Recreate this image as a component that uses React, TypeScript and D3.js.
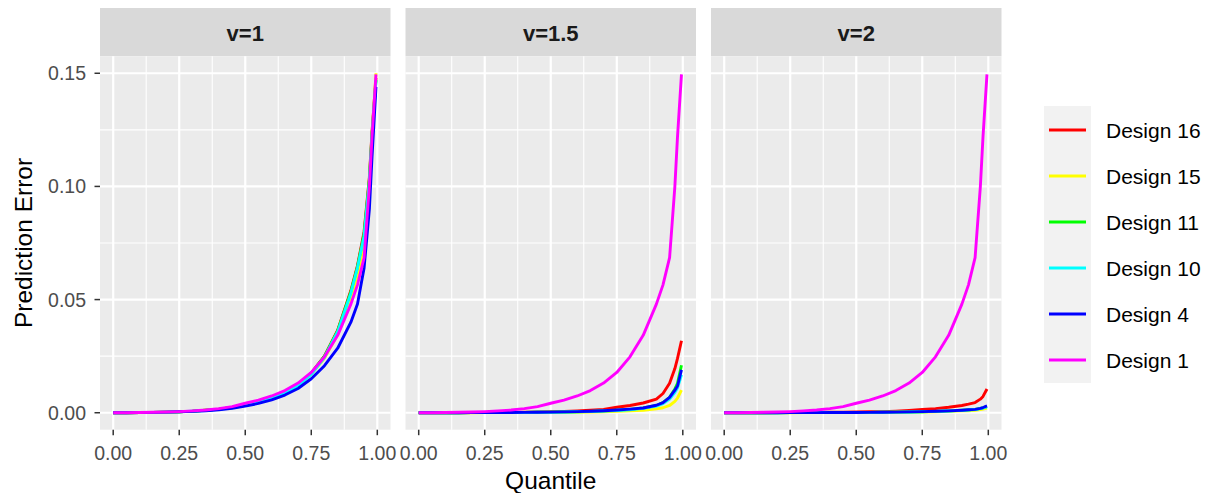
import React from "react";
import * as d3 from "d3";

const quantiles = [0, 0.05, 0.1, 0.15, 0.2, 0.25, 0.3, 0.35, 0.4, 0.45, 0.5, 0.55, 0.6, 0.65, 0.7, 0.75, 0.8, 0.85, 0.9, 0.925, 0.95, 0.97, 0.98, 0.995];

const panels = ["v=1", "v=1.5", "v=2"];
const designs = ["Design 16", "Design 15", "Design 11", "Design 10", "Design 4", "Design 1"];
const colors = ["#FF0000", "#FFFF00", "#00FF00", "#00FFFF", "#0000FF", "#FF00FF"];

const xTicks = [0, 0.25, 0.5, 0.75, 1];
const xTickLabels = ["0.00", "0.25", "0.50", "0.75", "1.00"];
const yTicks = [0, 0.05, 0.1, 0.15];
const yTickLabels = ["0.00", "0.05", "0.10", "0.15"];

// Design 1 (shared shape across panels)
const d1 = [0, 0.00002, 0.00008, 0.00018, 0.0003, 0.0005, 0.0008, 0.0012, 0.0018, 0.0027, 0.0042, 0.0056, 0.0074, 0.0098, 0.0131, 0.0178, 0.0247, 0.0342, 0.048, 0.0565, 0.0685, 0.1, 0.122, 0.1495];

// Panel v=1
const p1_d16 = [0, 0.00002, 0.00007, 0.00016, 0.00028, 0.00046, 0.0007, 0.0011, 0.0016, 0.0023, 0.0034, 0.0048, 0.0066, 0.009, 0.0124, 0.0175, 0.025, 0.0365, 0.054, 0.065, 0.08, 0.104, 0.124, 0.148];
const p1_d15 = [0, 0.00002, 0.00007, 0.00016, 0.00028, 0.00045, 0.0007, 0.0011, 0.0016, 0.0023, 0.0034, 0.0047, 0.0065, 0.0088, 0.0121, 0.017, 0.024, 0.0345, 0.0505, 0.061, 0.0745, 0.099, 0.1215, 0.15];
const p1_d11 = [0, 0.00002, 0.00007, 0.00016, 0.00028, 0.00046, 0.0007, 0.0011, 0.0016, 0.0023, 0.0034, 0.0048, 0.0066, 0.009, 0.0124, 0.0175, 0.025, 0.0362, 0.0535, 0.0645, 0.079, 0.103, 0.123, 0.147];
const p1_d10 = [0, 0.00002, 0.00007, 0.00016, 0.00027, 0.00044, 0.0007, 0.001, 0.0015, 0.0022, 0.0033, 0.0046, 0.0064, 0.0087, 0.012, 0.017, 0.0245, 0.0358, 0.0528, 0.064, 0.078, 0.102, 0.122, 0.147];
const p1_d4 = [0, 0.00002, 0.00006, 0.00014, 0.00025, 0.0004, 0.0006, 0.0009, 0.0013, 0.0019, 0.0029, 0.0041, 0.0057, 0.0078, 0.0107, 0.015, 0.0208, 0.0285, 0.04, 0.048, 0.064, 0.09, 0.113, 0.144];

// Panel v=1.5
const p2_d16 = [0, 0, 0.00001, 0.00002, 0.00004, 0.00007, 0.0001, 0.00015, 0.0002, 0.0003, 0.0004, 0.0006, 0.0008, 0.0011, 0.0015, 0.0024, 0.0032, 0.0043, 0.006, 0.0085, 0.013, 0.0195, 0.024, 0.0318];
const p2_d15 = [0, 0, 0, 0.00001, 0.00002, 0.00003, 0.00004, 0.00006, 0.00008, 0.0001, 0.00013, 0.00017, 0.00022, 0.0003, 0.0004, 0.0006, 0.0008, 0.0011, 0.0017, 0.0022, 0.0032, 0.005, 0.0065, 0.01];
const p2_d11 = [0, 0, 0.00001, 0.00002, 0.00003, 0.00005, 0.00007, 0.0001, 0.00014, 0.0002, 0.00027, 0.00035, 0.00045, 0.0006, 0.0008, 0.0011, 0.0015, 0.0021, 0.0032, 0.0045, 0.0068, 0.0105, 0.013, 0.021];
const p2_d10 = [0, 0, 0.00001, 0.00002, 0.00003, 0.00005, 0.00007, 0.0001, 0.00013, 0.00018, 0.00024, 0.00032, 0.00042, 0.00055, 0.00075, 0.001, 0.0013, 0.0019, 0.0029, 0.004, 0.006, 0.009, 0.011, 0.0168];
const p2_d4 = [0, 0, 0.00001, 0.00002, 0.00003, 0.00005, 0.00007, 0.0001, 0.00014, 0.0002, 0.00027, 0.00036, 0.00047, 0.00062, 0.00085, 0.0012, 0.0016, 0.0021, 0.0033, 0.0045, 0.0068, 0.01, 0.0118, 0.0189];

// Panel v=2
const p3_d16 = [0, 0, 0.00001, 0.00002, 0.00004, 0.00006, 0.00009, 0.00013, 0.00018, 0.00024, 0.0003, 0.0004, 0.0005, 0.0007, 0.001, 0.0014, 0.0018, 0.0024, 0.0032, 0.0038, 0.0045, 0.006, 0.0072, 0.0105];
const p3_d15 = [0, 0, 0, 0.00001, 0.00001, 0.00002, 0.00003, 0.00004, 0.00005, 0.00007, 0.00009, 0.00012, 0.00015, 0.0002, 0.00026, 0.00034, 0.00045, 0.0006, 0.0008, 0.0009, 0.0011, 0.0014, 0.0016, 0.002];
const p3_d11 = [0, 0, 0, 0.00001, 0.00002, 0.00003, 0.00004, 0.00005, 0.00007, 0.00009, 0.00012, 0.00016, 0.0002, 0.00026, 0.00034, 0.00045, 0.0006, 0.0008, 0.0011, 0.0013, 0.0015, 0.0019, 0.0022, 0.0027];
const p3_d10 = [0, 0, 0, 0.00001, 0.00002, 0.00003, 0.00004, 0.00005, 0.00007, 0.00009, 0.00012, 0.00016, 0.0002, 0.00026, 0.00033, 0.00044, 0.00058, 0.00078, 0.00105, 0.0012, 0.0014, 0.0018, 0.0021, 0.0026];
const p3_d4 = [0, 0, 0, 0.00001, 0.00002, 0.00003, 0.00004, 0.00006, 0.00008, 0.0001, 0.00013, 0.00017, 0.00022, 0.00028, 0.00036, 0.00047, 0.00062, 0.00082, 0.0011, 0.0013, 0.0015, 0.0019, 0.0023, 0.003];

const panelSeries = [
  [p1_d16, p1_d15, p1_d11, p1_d10, p1_d4, d1],
  [p2_d16, p2_d15, p2_d11, p2_d10, p2_d4, d1],
  [p3_d16, p3_d15, p3_d11, p3_d10, p3_d4, d1],
];

const FONT = "'Liberation Sans', Arial, Helvetica, sans-serif";

export default function App() {
  const W = 1208, H = 493;
  const panelW = 290.5;
  const panelLefts = [100, 405.5, 711];
  const panelTop = 56.3, panelBottom = 429.7;
  const stripTop = 8;

  const y = d3.scaleLinear().domain([-0.0075, 0.1575]).range([panelBottom, panelTop]);
  const yMinor = [0.025, 0.075, 0.125];
  const xMinor = [0.125, 0.375, 0.625, 0.875];

  const legendTop = 106, legendStep = 46;

  return (
    <svg width={W} height={H} style={{ position: "absolute", left: 0, top: 0, background: "#fff" }} fontFamily={FONT}>
      {panels.map((p, pi) => {
        const left = panelLefts[pi];
        const x = d3.scaleLinear().domain([-0.05, 1.05]).range([left, left + panelW]);
        const line = d3.line<number>().x((_, i) => x(quantiles[i])).y((v) => y(v));
        return (
          <g key={p}>
            <rect x={left} y={stripTop} width={panelW} height={panelTop - stripTop} fill="#D9D9D9" />
            <text x={left + panelW / 2} y={(stripTop + panelTop) / 2 + 1} textAnchor="middle" dominantBaseline="central" fontSize={22} fontWeight="bold" fill="#1A1A1A">{p}</text>
            <rect x={left} y={panelTop} width={panelW} height={panelBottom - panelTop} fill="#EBEBEB" />
            {yMinor.map((v) => (
              <line key={"ym" + v} x1={left} x2={left + panelW} y1={y(v)} y2={y(v)} stroke="#fff" strokeWidth={1.1} />
            ))}
            {xMinor.map((v) => (
              <line key={"xm" + v} x1={x(v)} x2={x(v)} y1={panelTop} y2={panelBottom} stroke="#fff" strokeWidth={1.1} />
            ))}
            {yTicks.map((v) => (
              <line key={"yM" + v} x1={left} x2={left + panelW} y1={y(v)} y2={y(v)} stroke="#fff" strokeWidth={2.2} />
            ))}
            {xTicks.map((v) => (
              <line key={"xM" + v} x1={x(v)} x2={x(v)} y1={panelTop} y2={panelBottom} stroke="#fff" strokeWidth={2.2} />
            ))}
            {panelSeries[pi].map((s, di) => (
              <path key={designs[di]} d={line(s) || ""} fill="none" stroke={colors[di]} strokeWidth={2.9} strokeLinejoin="round" strokeLinecap="butt" />
            ))}
            {xTicks.map((v, i) => (
              <g key={"xt" + v}>
                <line x1={x(v)} x2={x(v)} y1={panelBottom} y2={panelBottom + 5.5} stroke="#333" strokeWidth={1.5} />
                <text x={x(v)} y={panelBottom + 23} textAnchor="middle" dominantBaseline="central" fontSize={19.5} fill="#4D4D4D">{xTickLabels[i]}</text>
              </g>
            ))}
          </g>
        );
      })}
      {yTicks.map((v, i) => (
        <g key={"yt" + v}>
          <line x1={94.5} x2={100} y1={y(v)} y2={y(v)} stroke="#333" strokeWidth={1.5} />
          <text x={86} y={y(v)} textAnchor="end" dominantBaseline="central" fontSize={19.5} fill="#4D4D4D">{yTickLabels[i]}</text>
        </g>
      ))}
      <text transform={`translate(23,${(panelTop + panelBottom) / 2}) rotate(-90)`} textAnchor="middle" dominantBaseline="central" fontSize={24.5} fill="#000">Prediction Error</text>
      <text x={(panelLefts[0] + panelLefts[2] + panelW) / 2} y={480} textAnchor="middle" dominantBaseline="central" fontSize={24.5} fill="#000">Quantile</text>

      <rect x={1044} y={legendTop} width={47} height={legendStep * 6 + 1} fill="#F2F2F2" />
      {designs.map((d, i) => {
        const cy = legendTop + 24 + i * legendStep;
        return (
          <g key={d}>
            <line x1={1049} x2={1086} y1={cy} y2={cy} stroke={colors[i]} strokeWidth={2.9} />
            <text x={1106} y={cy} dominantBaseline="central" fontSize={21} fill="#000">{d}</text>
          </g>
        );
      })}
    </svg>
  );
}
